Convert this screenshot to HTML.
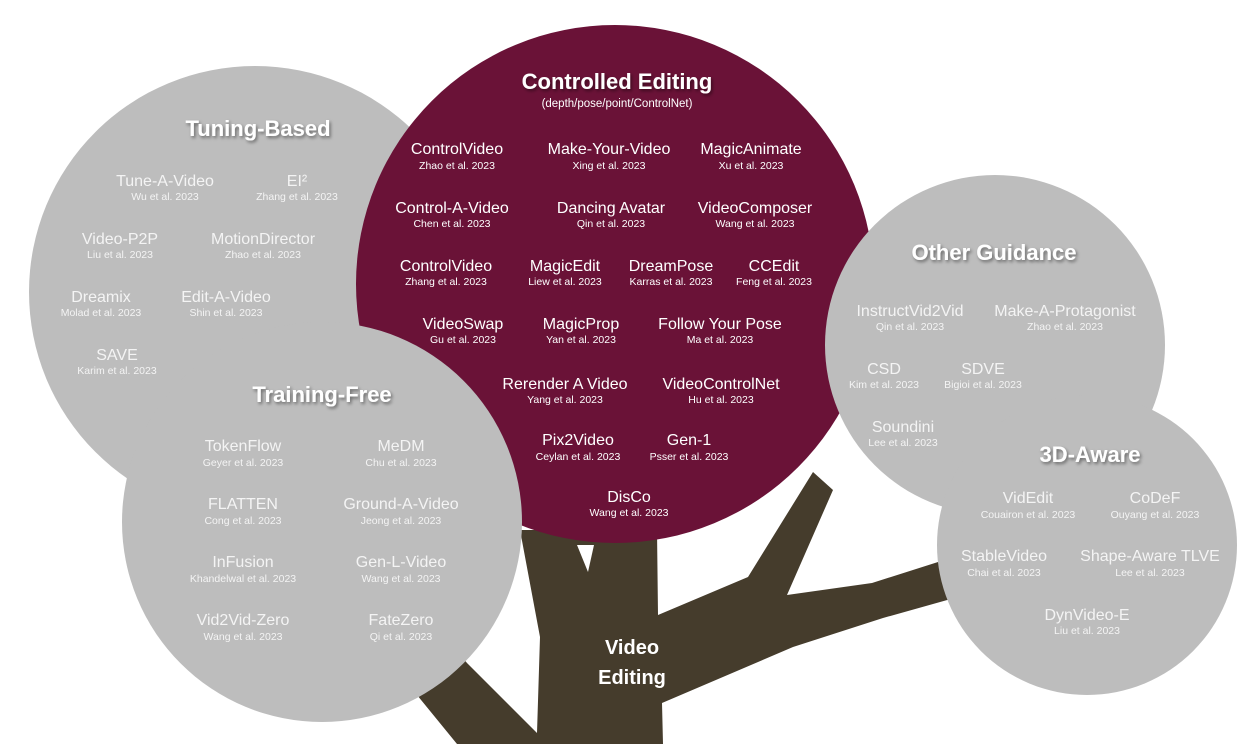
<!DOCTYPE html>
<html><head><meta charset="utf-8"><style>
html,body{margin:0;padding:0;background:#fff;}
svg{display:block;font-family:"Liberation Sans",sans-serif;}
.t{font-size:22px;font-weight:bold;fill:#fff;text-anchor:middle;filter:url(#sh);}
.n{font-size:16px;fill:#fff;text-anchor:middle;}
.s{font-size:10.5px;fill:#fff;text-anchor:middle;}
.g .n,.g .s{fill:#f4f4f4;}
</style></head><body>
<svg width="1255" height="744" viewBox="0 0 1255 744" xmlns="http://www.w3.org/2000/svg">
<defs><filter id="sh" x="-10%" y="-30%" width="120%" height="160%"><feDropShadow dx="1.5" dy="2" stdDeviation="1.5" flood-color="#000" flood-opacity="0.45"/></filter></defs>
<!-- trunk -->
<polygon fill="#453c2c" points="520,530 540,637 537,733 467,663 440,630 380,660 417,695 457,744 663,744 662,703 793,647 883,618 965,595 960,555 872,583 787,595 833,490 813,472 748,577 658,615 657,530"/>
<polygon fill="#fff" points="577,545 594,545 588,572"/>
<!-- circles -->
<circle cx="255" cy="292" r="226" fill="#bdbdbd"/>
<circle cx="615" cy="284" r="259" fill="#6a1237"/>
<circle cx="322" cy="522" r="200" fill="#bdbdbd"/>
<circle cx="995" cy="345" r="170" fill="#bdbdbd"/>
<circle cx="1087" cy="545" r="150" fill="#bdbdbd"/>

<text class="t" x="258" y="136">Tuning-Based</text>
<g class="g">
<text class="n" x="165" y="186">Tune-A-Video</text><text class="s" x="165" y="200">Wu et al. 2023</text>
<text class="n" x="297" y="186">EI²</text><text class="s" x="297" y="200">Zhang et al. 2023</text>
<text class="n" x="120" y="244">Video-P2P</text><text class="s" x="120" y="258">Liu et al. 2023</text>
<text class="n" x="263" y="244">MotionDirector</text><text class="s" x="263" y="258">Zhao et al. 2023</text>
<text class="n" x="101" y="302">Dreamix</text><text class="s" x="101" y="316">Molad et al. 2023</text>
<text class="n" x="226" y="302">Edit-A-Video</text><text class="s" x="226" y="316">Shin et al. 2023</text>
<text class="n" x="117" y="360">SAVE</text><text class="s" x="117" y="374">Karim et al. 2023</text>
</g>

<text class="t" x="322" y="402">Training-Free</text>
<g class="g">
<text class="n" x="243" y="451">TokenFlow</text><text class="s" x="243" y="466">Geyer et al. 2023</text>
<text class="n" x="401" y="451">MeDM</text><text class="s" x="401" y="466">Chu et al. 2023</text>
<text class="n" x="243" y="509">FLATTEN</text><text class="s" x="243" y="524">Cong et al. 2023</text>
<text class="n" x="401" y="509">Ground-A-Video</text><text class="s" x="401" y="524">Jeong et al. 2023</text>
<text class="n" x="243" y="567">InFusion</text><text class="s" x="243" y="582">Khandelwal et al. 2023</text>
<text class="n" x="401" y="567">Gen-L-Video</text><text class="s" x="401" y="582">Wang et al. 2023</text>
<text class="n" x="243" y="625">Vid2Vid-Zero</text><text class="s" x="243" y="640">Wang et al. 2023</text>
<text class="n" x="401" y="625">FateZero</text><text class="s" x="401" y="640">Qi et al. 2023</text>
</g>

<text class="t" x="617" y="89">Controlled Editing</text>
<text class="s" x="617" y="107" style="font-size:11.5px">(depth/pose/point/ControlNet)</text>
<text class="n" x="457" y="154">ControlVideo</text><text class="s" x="457" y="169">Zhao et al. 2023</text>
<text class="n" x="609" y="154">Make-Your-Video</text><text class="s" x="609" y="169">Xing et al. 2023</text>
<text class="n" x="751" y="154">MagicAnimate</text><text class="s" x="751" y="169">Xu et al. 2023</text>
<text class="n" x="452" y="213">Control-A-Video</text><text class="s" x="452" y="227">Chen et al. 2023</text>
<text class="n" x="611" y="213">Dancing Avatar</text><text class="s" x="611" y="227">Qin et al. 2023</text>
<text class="n" x="755" y="213">VideoComposer</text><text class="s" x="755" y="227">Wang et al. 2023</text>
<text class="n" x="446" y="271">ControlVideo</text><text class="s" x="446" y="285">Zhang et al. 2023</text>
<text class="n" x="565" y="271">MagicEdit</text><text class="s" x="565" y="285">Liew et al. 2023</text>
<text class="n" x="671" y="271">DreamPose</text><text class="s" x="671" y="285">Karras et al. 2023</text>
<text class="n" x="774" y="271">CCEdit</text><text class="s" x="774" y="285">Feng et al. 2023</text>
<text class="n" x="463" y="329">VideoSwap</text><text class="s" x="463" y="343">Gu et al. 2023</text>
<text class="n" x="581" y="329">MagicProp</text><text class="s" x="581" y="343">Yan et al. 2023</text>
<text class="n" x="720" y="329">Follow Your Pose</text><text class="s" x="720" y="343">Ma et al. 2023</text>
<text class="n" x="565" y="389">Rerender A Video</text><text class="s" x="565" y="403">Yang et al. 2023</text>
<text class="n" x="721" y="389">VideoControlNet</text><text class="s" x="721" y="403">Hu et al. 2023</text>
<text class="n" x="578" y="445">Pix2Video</text><text class="s" x="578" y="460">Ceylan et al. 2023</text>
<text class="n" x="689" y="445">Gen-1</text><text class="s" x="689" y="460">Psser et al. 2023</text>
<text class="n" x="629" y="502">DisCo</text><text class="s" x="629" y="516">Wang et al. 2023</text>

<text class="t" x="994" y="260">Other Guidance</text>
<g class="g">
<text class="n" x="910" y="316">InstructVid2Vid</text><text class="s" x="910" y="330">Qin et al. 2023</text>
<text class="n" x="1065" y="316">Make-A-Protagonist</text><text class="s" x="1065" y="330">Zhao et al. 2023</text>
<text class="n" x="884" y="374">CSD</text><text class="s" x="884" y="388">Kim et al. 2023</text>
<text class="n" x="983" y="374">SDVE</text><text class="s" x="983" y="388">Bigioi et al. 2023</text>
<text class="n" x="903" y="432">Soundini</text><text class="s" x="903" y="446">Lee et al. 2023</text>
</g>

<text class="t" x="1090" y="462">3D-Aware</text>
<g class="g">
<text class="n" x="1028" y="503">VidEdit</text><text class="s" x="1028" y="518">Couairon et al. 2023</text>
<text class="n" x="1155" y="503">CoDeF</text><text class="s" x="1155" y="518">Ouyang et al. 2023</text>
<text class="n" x="1004" y="561">StableVideo</text><text class="s" x="1004" y="576">Chai et al. 2023</text>
<text class="n" x="1150" y="561">Shape-Aware TLVE</text><text class="s" x="1150" y="576">Lee et al. 2023</text>
<text class="n" x="1087" y="620">DynVideo-E</text><text class="s" x="1087" y="634">Liu et al. 2023</text>
</g>

<text x="632" y="654" style="font-size:20px;font-weight:bold;fill:#fff;text-anchor:middle">Video</text>
<text x="632" y="684" style="font-size:20px;font-weight:bold;fill:#fff;text-anchor:middle">Editing</text>
</svg>
</body></html>
